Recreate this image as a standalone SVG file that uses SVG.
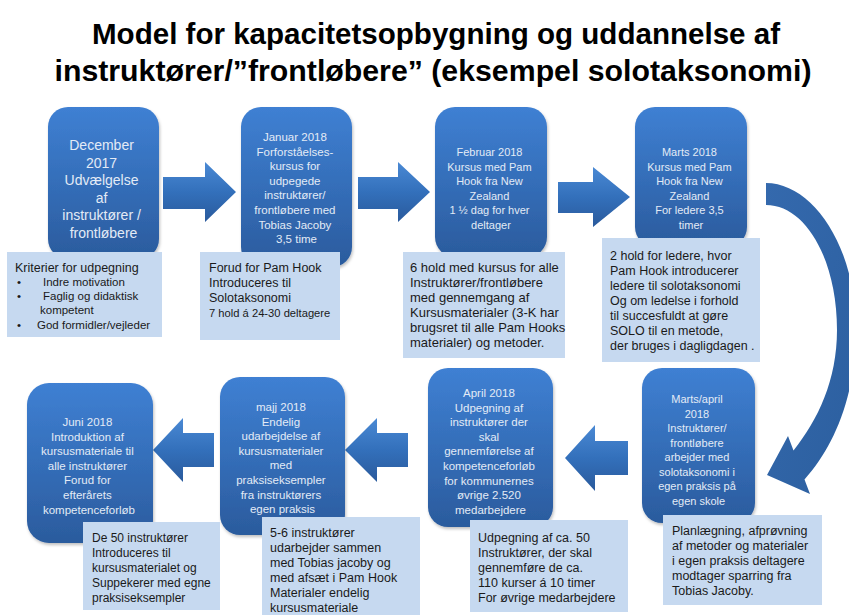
<svg xmlns="http://www.w3.org/2000/svg" width="849" height="615" viewBox="0 0 849 615">
<defs>
<linearGradient id="gNode" x1="0" y1="0" x2="0" y2="1">
<stop offset="0" stop-color="#3f80d3"/>
<stop offset="0.55" stop-color="#336cb6"/>
<stop offset="1" stop-color="#2b5b9d"/>
</linearGradient>
<linearGradient id="gArrow" x1="0" y1="0" x2="0" y2="1">
<stop offset="0" stop-color="#4a89d4"/>
<stop offset="0.5" stop-color="#3370bb"/>
<stop offset="1" stop-color="#2a5a9c"/>
</linearGradient>
<linearGradient id="gCurve" x1="0" y1="0" x2="1" y2="1">
<stop offset="0" stop-color="#3469ad"/>
<stop offset="1" stop-color="#2c5f9f"/>
</linearGradient>
<filter id="sh" x="-10%" y="-10%" width="125%" height="125%">
<feDropShadow dx="1" dy="2" stdDeviation="1.5" flood-color="#000" flood-opacity="0.25"/>
</filter>
</defs>
<style>
.node{fill:url(#gNode);filter:url(#sh)}
.box{fill:#c6d9f0}
.arrow{fill:url(#gArrow)}
.nt{font-family:"Liberation Sans",Arial,sans-serif;fill:#e3ebf6;text-anchor:middle;font-size:11.5px}
.bt{font-family:"Liberation Sans",Arial,sans-serif;fill:#1a1a1a;font-size:12.5px}
.title{font-family:"Liberation Sans",Arial,sans-serif;font-weight:bold;font-size:30px;fill:#000;text-anchor:middle}
</style>
<rect width="849" height="615" fill="#ffffff"/>
<g id="title">
<text class="title" x="436" y="44" textLength="688" lengthAdjust="spacingAndGlyphs">Model for kapacitetsopbygning og uddannelse af</text>
<text class="title" x="433" y="81" textLength="757" lengthAdjust="spacingAndGlyphs">instruktører/”frontløbere” (eksempel solotaksonomi)</text>
</g>
<g id="connectors">
<path class="arrow" d="M163,177 L205,177 L205,162 L236,192 L205,222 L205,209 L163,209 Z"/>
<path class="arrow" d="M358,177 L398,177 L398,162 L430,192 L398,222 L398,209 L358,209 Z"/>
<path class="arrow" d="M558,182 L593,182 L593,167 L630,197 L593,227 L593,213 L558,213 Z"/>
<path fill="url(#gCurve)" d="M766,183 C812,183 856,245 856,330 C856,395 834,447 804.5,479.5 L810,494 L767,475 L788,436 L793.5,450.5 C818,420 837,380 837,330 C837,260 806,205 766,205 Z"/>
<path class="arrow" d="M628,441 L595,441 L595,425 L565,458 L595,491 L595,475 L628,475 Z"/>
<path class="arrow" d="M408,433 L377,433 L377,418 L345,450 L377,482 L377,467 L408,467 Z"/>
<path class="arrow" d="M214,433 L183,433 L183,418 L153,450 L183,482 L183,467 L214,467 Z"/>
</g>
<g id="node1">
<rect class="node" x="48" y="107" width="111" height="152" rx="20"/>
<text class="nt" style="font-size:14px">
<tspan x="103.5" y="150">December</tspan>
<tspan x="103.5" y="167.5">2017</tspan>
<tspan x="103.5" y="185">Udvælgelse</tspan>
<tspan x="103.5" y="202.5">af</tspan>
<tspan x="103.5" y="220">instruktører /</tspan>
<tspan x="103.5" y="237.5">frontløbere</tspan>
</text>
</g>
<g id="node2">
<rect class="node" x="241" y="107" width="111" height="160" rx="20"/>
<text class="nt">
<tspan x="296.5" y="141">Januar 2018</tspan>
<tspan x="296.5" y="155.6">Forforståelses-</tspan>
<tspan x="296.5" y="170.2">kursus for</tspan>
<tspan x="296.5" y="184.8">udpegede</tspan>
<tspan x="296.5" y="199.4">instruktører/</tspan>
<tspan x="296.5" y="214">frontløbere med</tspan>
<tspan x="296.5" y="228.6">Tobias Jacoby</tspan>
<tspan x="296.5" y="243.2">3,5 time</tspan>
</text>
</g>
<g id="node3">
<rect class="node" x="435" y="107" width="112" height="150" rx="20"/>
<text class="nt" style="font-size:11px">
<tspan x="491" y="156">Februar 2018</tspan>
<tspan x="491" y="170.6">Kursus med Pam</tspan>
<tspan x="491" y="185.2">Hook fra New</tspan>
<tspan x="491" y="199.8">Zealand</tspan>
<tspan x="491" y="214.4">1 ½ dag for hver</tspan>
<tspan x="491" y="229">deltager</tspan>
</text>
</g>
<g id="node4">
<rect class="node" x="635" y="107" width="112" height="140" rx="20"/>
<text class="nt" style="font-size:11px">
<tspan x="691" y="156">Marts 2018</tspan>
<tspan x="691" y="170.6">Kursus med Pam</tspan>
<tspan x="691" y="185.2">Hook fra New</tspan>
<tspan x="691" y="199.8">Zealand</tspan>
<tspan x="691" y="214.4">For ledere 3,5</tspan>
<tspan x="691" y="229">timer</tspan>
</text>
</g>
<g id="node8">
<rect class="node" x="642" y="368" width="113" height="155" rx="20"/>
<text class="nt" style="font-size:11px">
<tspan x="698.5" y="403">Marts/april</tspan>
<tspan x="698.5" y="417.5">2018</tspan>
<tspan x="698.5" y="432">Instruktører/</tspan>
<tspan x="698.5" y="446.5">frontløbere</tspan>
<tspan x="698.5" y="461">arbejder med</tspan>
<tspan x="698.5" y="475.5">solotaksonomi i</tspan>
<tspan x="698.5" y="490">egen praksis på</tspan>
<tspan x="698.5" y="504.5">egen skole</tspan>
</text>
</g>
<g id="node7">
<rect class="node" x="428" y="368" width="125" height="159" rx="20"/>
<text class="nt">
<tspan x="490.5" y="397">April 2018</tspan>
<tspan x="490.5" y="411.6">Udpegning af</tspan>
<tspan x="490.5" y="426.2">instruktører der</tspan>
<tspan x="490.5" y="440.8">skal</tspan>
<tspan x="490.5" y="455.4">gennemførelse af</tspan>
<tspan x="490.5" y="470">kompetenceforløb</tspan>
<tspan x="490.5" y="484.6">for kommunernes</tspan>
<tspan x="490.5" y="499.2">øvrige 2.520</tspan>
<tspan x="490.5" y="513.8">medarbejdere</tspan>
</text>
</g>
<g id="node6">
<rect class="node" x="220" y="377" width="125" height="158" rx="20"/>
<text class="nt">
<tspan x="282.5" y="411">majj 2018</tspan>
<tspan x="282.5" y="425.6">Endelig</tspan>
<tspan x="282.5" y="440.2">udarbejdelse af</tspan>
<tspan x="282.5" y="454.8">kursusmaterialer</tspan>
<tspan x="282.5" y="469.4">med</tspan>
<tspan x="282.5" y="484">praksiseksempler</tspan>
<tspan x="282.5" y="498.6">fra instruktørers</tspan>
<tspan x="282.5" y="513.2">egen praksis</tspan>
</text>
</g>
<g id="node5">
<rect class="node" x="27" y="383" width="126" height="160" rx="22"/>
<text class="nt">
<tspan x="89" y="426">Juni 2018</tspan>
<tspan x="89" y="440.6">Introduktion af</tspan>
<tspan x="89" y="455.2">kursusmateriale til</tspan>
<tspan x="89" y="469.8">alle instruktører</tspan>
<tspan x="89" y="484.4">Forud for</tspan>
<tspan x="89" y="499">efterårets</tspan>
<tspan x="89" y="513.6">kompetenceforløb</tspan>
</text>
</g>
<g id="note1">
<rect class="box" x="7" y="252" width="155" height="85"/>
<text class="bt" x="15" y="271.5">Kriterier for udpegning</text>
<g class="bt" style="font-size:11.5px">
<text x="17" y="286">•</text>
<text x="43" y="286">Indre motivation</text>
<text x="17" y="300">•</text>
<text x="43" y="300">Faglig og didaktisk</text>
<text x="40" y="314">kompetent</text>
<text x="17" y="329">•</text>
<text x="37" y="329">God formidler/vejleder</text>
</g>
</g>
<g id="note2">
<rect class="box" x="200" y="252" width="140" height="88"/>
<text class="bt">
<tspan x="209" y="271.5">Forud for Pam Hook</tspan>
<tspan x="209" y="287">Introduceres til</tspan>
<tspan x="209" y="302">Solotaksonomi</tspan>
<tspan x="209" y="317" style="font-size:11.2px">7 hold á 24-30 deltagere</tspan>
</text>
</g>
<g id="note3">
<rect class="box" x="403" y="252" width="162" height="106"/>
<text class="bt" style="font-size:13px">
<tspan x="410" y="272">6 hold med kursus for alle</tspan>
<tspan x="410" y="287">Instruktører/frontløbere</tspan>
<tspan x="410" y="302">med gennemgang af</tspan>
<tspan x="410" y="317">Kursusmaterialer (3-K har</tspan>
<tspan x="410" y="332">brugsret til alle Pam Hooks</tspan>
<tspan x="410" y="347">materialer) og metoder.</tspan>
</text>
</g>
<g id="note4">
<rect class="box" x="602" y="238" width="158" height="124"/>
<text class="bt">
<tspan x="610" y="259.5">2 hold for ledere, hvor</tspan>
<tspan x="610" y="274.5">Pam Hook introducerer</tspan>
<tspan x="610" y="289.5">ledere til solotaksonomi</tspan>
<tspan x="610" y="304.5">Og om ledelse i forhold</tspan>
<tspan x="610" y="319.5">til succesfuldt at gøre</tspan>
<tspan x="610" y="334.5">SOLO til en metode,</tspan>
<tspan x="610" y="349.5">der bruges i dagligdagen .</tspan>
</text>
</g>
<g id="note8">
<rect class="box" x="663" y="515" width="159" height="90"/>
<text class="bt">
<tspan x="672" y="534.5">Planlægning, afprøvning</tspan>
<tspan x="672" y="549.5">af metoder og materialer</tspan>
<tspan x="672" y="564.5">i egen praksis deltagere</tspan>
<tspan x="672" y="579.5">modtager sparring fra</tspan>
<tspan x="672" y="594.5">Tobias Jacoby.</tspan>
</text>
</g>
<g id="note7">
<rect class="box" x="470" y="520" width="158" height="92"/>
<text class="bt">
<tspan x="478" y="541.5">Udpegning af ca. 50</tspan>
<tspan x="478" y="556.5">Instruktører, der skal</tspan>
<tspan x="478" y="571.5">gennemføre de ca.</tspan>
<tspan x="478" y="586.5">110 kurser á 10 timer</tspan>
<tspan x="478" y="601.5">For øvrige medarbejdere</tspan>
</text>
</g>
<g id="note6">
<rect class="box" x="262" y="517" width="158" height="100"/>
<text class="bt">
<tspan x="270" y="536.5">5-6 instruktører</tspan>
<tspan x="270" y="551.5">udarbejder sammen</tspan>
<tspan x="270" y="566.5">med Tobias jacoby og</tspan>
<tspan x="270" y="581.5">med afsæt i Pam Hook</tspan>
<tspan x="270" y="596.5">Materialer endelig</tspan>
<tspan x="270" y="611.5">kursusmateriale</tspan>
</text>
</g>
<g id="note5">
<rect class="box" x="83" y="522" width="137" height="88"/>
<text class="bt" style="font-size:12px">
<tspan x="92" y="541.5">De 50 instruktører</tspan>
<tspan x="92" y="556.5">Introduceres til</tspan>
<tspan x="92" y="571.5">kursusmaterialet og</tspan>
<tspan x="92" y="586.5">Suppekerer med egne</tspan>
<tspan x="92" y="601.5">praksiseksempler</tspan>
</text>
</g>
</svg>
